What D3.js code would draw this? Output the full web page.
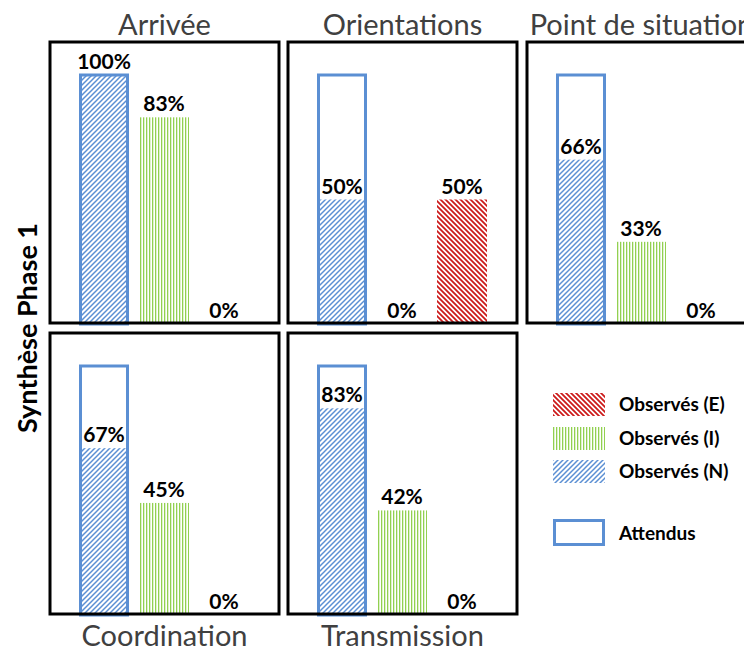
<!DOCTYPE html>
<html>
<head>
<meta charset="utf-8">
<script src="https://cdn.jsdelivr.net/npm/d3@7"></script>
<style>
  body { margin: 0; background: white; }
  svg { display: block; }
</style>
</head>
<body>
<div id="chart"></div>
<script>
// data
let panels = ["Arrivée", "Orientations", "Point de situation", "Coordination", "Transmission"];
let series = ["N", "I", "E"];
let attendus = [100, 100, 100, 100, 100];
let obsN = [100, 50, 66, 67, 83];
let obsI = [83, 0, 33, 45, 42];
let obsE = [0, 50, 0, 0, 0];
let legendLabels = ["Observés (E)", "Observés (I)", "Observés (N)", "Attendus"];
let yTitle = "Synthèse Phase 1";

let W = 744, H = 651;
let panelW = 229, panelH = 281;
// panel grid: 3 columns on top, 2 below
let colX = [50, 288, 527], rowY = [42, 333];

let blue = "#5b8fd3", green = "#92d050", red = "#cc1a1a";

let svg = d3.select("#chart").append("svg")
  .attr("width", W).attr("height", H)
  .style("font-family", "Lato, 'Open Sans', sans-serif");

// hatch patterns
let defs = svg.append("defs");
let pN = defs.append("pattern").attr("id", "hatchN")
  .attr("patternUnits", "userSpaceOnUse").attr("width", 5).attr("height", 5);
pN.append("path").attr("d", "M-1,1 l2,-2 M0,5 l5,-5 M4,6 l2,-2")
  .attr("stroke", blue).attr("stroke-width", 1.5);
let pI = defs.append("pattern").attr("id", "hatchI")
  .attr("patternUnits", "userSpaceOnUse").attr("width", 3).attr("height", 3);
pI.append("rect").attr("x", 0).attr("y", 0).attr("width", 1.3).attr("height", 3).attr("fill", green);
let pE = defs.append("pattern").attr("id", "hatchE")
  .attr("patternUnits", "userSpaceOnUse").attr("width", 5).attr("height", 5);
pE.append("path").attr("d", "M-1,4 l2,2 M0,0 l5,5 M4,-1 l2,2")
  .attr("stroke", red).attr("stroke-width", 1.8);

let fills = { N: "url(#hatchN)", I: "url(#hatchI)", E: "url(#hatchE)" };

let x = d3.scaleBand().domain(series).range([29, 199]).paddingInner(1 / 6).paddingOuter(0);
let y = d3.scaleLinear().domain([0, 100]).range([panelH + 1, 33]);

panels.forEach(function(name, i) {
  let row = i < 3 ? 0 : 1, col = i < 3 ? i : i - 3;
  let g = svg.append("g").attr("transform", "translate(" + colX[col] + "," + rowY[row] + ")");
  let vals = [
    { s: "N", v: obsN[i] },
    { s: "I", v: obsI[i] },
    { s: "E", v: obsE[i] }
  ];

  g.selectAll(".bar").data(vals).enter().append("rect")
    .attr("class", "bar")
    .attr("x", function(d) { return x(d.s); })
    .attr("width", x.bandwidth())
    .attr("y", function(d) { return y(d.v); })
    .attr("height", function(d) { return y(0) - y(d.v); })
    .attr("fill", function(d) { return fills[d.s]; });

  // expected outline on the N band
  g.append("rect")
    .attr("x", x("N") + 1.5)
    .attr("width", x.bandwidth() - 3)
    .attr("y", y(attendus[i]))
    .attr("height", y(0) - y(attendus[i]))
    .attr("fill", "none")
    .attr("stroke", blue)
    .attr("stroke-width", 3);

  g.selectAll(".lbl").data(vals).enter().append("text")
    .attr("class", "lbl")
    .attr("x", function(d) { return x(d.s) + x.bandwidth() / 2; })
    .attr("y", function(d) { return y(d.v) - 6; })
    .attr("text-anchor", "middle")
    .style("font-size", "21px").style("font-weight", "bold")
    .text(function(d) { return d.v + "%"; });

  g.append("rect")
    .attr("width", panelW).attr("height", panelH)
    .attr("fill", "none").attr("stroke", "black").attr("stroke-width", 3);

  g.append("text")
    .attr("x", panelW / 2)
    .attr("y", row === 0 ? -7 : panelH + 32)
    .attr("text-anchor", "middle")
    .attr("fill", "#404040")
    .style("font-size", "29px")
    .text(name);
});

// y title
svg.append("text")
  .attr("transform", "translate(37,328) rotate(-90)")
  .attr("text-anchor", "middle")
  .style("font-size", "27px").style("font-weight", "bold")
  .text(yTitle);

// legend
let legend = svg.append("g").attr("transform", "translate(553,0)");
let legFill = [fills.E, fills.I, fills.N];
let legY = [393, 427, 460];
legendLabels.slice(0, 3).forEach(function(t, k) {
  legend.append("rect").attr("x", 0).attr("y", legY[k]).attr("width", 52).attr("height", 23)
    .attr("fill", legFill[k]);
  legend.append("text").attr("x", 66).attr("y", legY[k] + 11.5).attr("dy", "0.35em")
    .style("font-size", "19px").style("font-weight", "bold").text(t);
});
legend.append("rect").attr("x", 1.5).attr("y", 520.5).attr("width", 49).attr("height", 24)
  .attr("fill", "none").attr("stroke", blue).attr("stroke-width", 3);
legend.append("text").attr("x", 66).attr("y", 533).attr("dy", "0.35em")
  .style("font-size", "19px").style("font-weight", "bold").text(legendLabels[3]);
</script>
</body>
</html>
